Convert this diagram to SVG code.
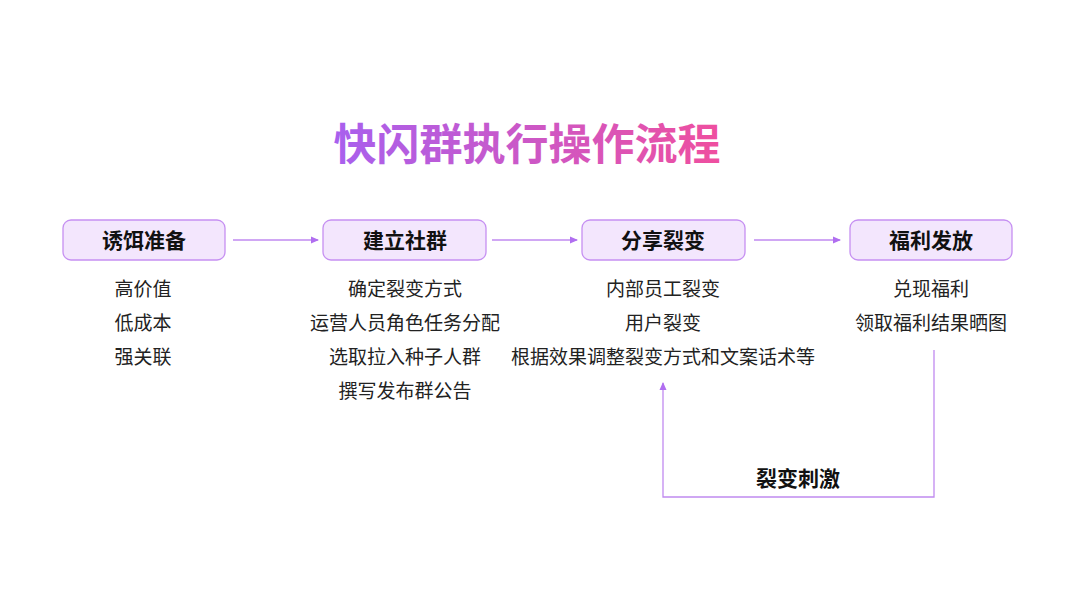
<svg xmlns="http://www.w3.org/2000/svg" width="1080" height="608" viewBox="0 0 1080 608">
<defs>
<linearGradient id="tg" x1="0" y1="0" x2="1" y2="0">
<stop offset="0" stop-color="#a860ee"/>
<stop offset="1" stop-color="#ef4f9f"/>
</linearGradient>
<marker id="ah" markerWidth="8" markerHeight="8" refX="7" refY="4" orient="auto" markerUnits="userSpaceOnUse">
<path d="M0,0.5 L8,4 L0,7.5 Z" fill="#b06ef0"/>
</marker>
</defs>
<style>
.box{fill:#f3e6fd;stroke:#c690f2;stroke-width:1.3}
.bt{font-family:"Noto Sans CJK SC",sans-serif;font-weight:bold;font-size:21px;fill:#111;text-anchor:middle}
.it{font-family:"Noto Sans CJK SC",sans-serif;font-size:19px;fill:#222;text-anchor:middle}
.cn{stroke:#c08af0;stroke-width:1.3;fill:none}
</style>
<rect width="1080" height="608" fill="#fff"/>
<text x="527" y="160" font-family="Noto Sans CJK SC,sans-serif" font-weight="bold" font-size="43" fill="url(#tg)" text-anchor="middle">快闪群执行操作流程</text>
<g id="connectors">
<line class="cn" x1="233" y1="240" x2="318" y2="240" marker-end="url(#ah)"/>
<line class="cn" x1="492" y1="240" x2="577" y2="240" marker-end="url(#ah)"/>
<line class="cn" x1="754" y1="240" x2="840" y2="240" marker-end="url(#ah)"/>
<polyline class="cn" points="934,350 934,497 663,497 663,383" marker-end="url(#ah)"/>
<text x="798" y="486" class="bt">裂变刺激</text>
</g>
<g id="n1">
<rect class="box" x="63" y="220" width="162" height="40" rx="8"/>
<text class="bt" x="144" y="248">诱饵准备</text>
<text class="it" x="143" y="296">高价值</text>
<text class="it" x="143" y="330">低成本</text>
<text class="it" x="143" y="364">强关联</text>
</g>
<g id="n2">
<rect class="box" x="323" y="220" width="163" height="40" rx="8"/>
<text class="bt" x="405" y="248">建立社群</text>
<text class="it" x="405" y="296">确定裂变方式</text>
<text class="it" x="405" y="330">运营人员角色任务分配</text>
<text class="it" x="405" y="364">选取拉入种子人群</text>
<text class="it" x="405" y="398">撰写发布群公告</text>
</g>
<g id="n3">
<rect class="box" x="582" y="220" width="163" height="40" rx="8"/>
<text class="bt" x="663" y="248">分享裂变</text>
<text class="it" x="663" y="296">内部员工裂变</text>
<text class="it" x="663" y="330">用户裂变</text>
<text class="it" x="663" y="364">根据效果调整裂变方式和文案话术等</text>
</g>
<g id="n4">
<rect class="box" x="850" y="220" width="162" height="40" rx="8"/>
<text class="bt" x="931" y="248">福利发放</text>
<text class="it" x="931" y="296">兑现福利</text>
<text class="it" x="931" y="330">领取福利结果晒图</text>
</g>
</svg>
